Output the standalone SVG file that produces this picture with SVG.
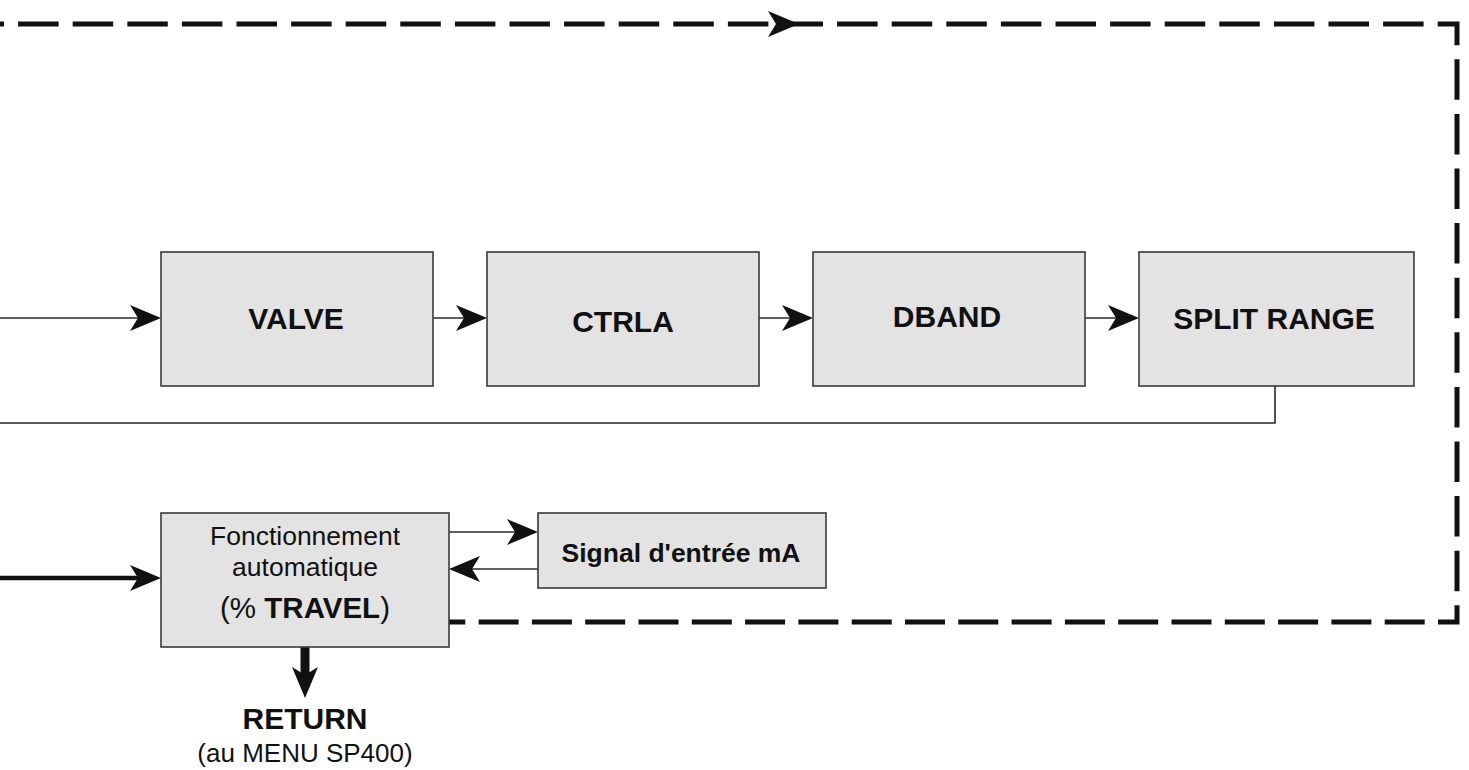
<svg xmlns="http://www.w3.org/2000/svg" width="1469" height="770" viewBox="0 0 1469 770">
<style>
.box{fill:#e3e3e3;stroke:#3a3a3a;stroke-width:1.6}
.t{font-family:"Liberation Sans",Arial,sans-serif;fill:#111;text-anchor:middle}
.b{font-weight:bold}
.ln{fill:none;stroke:#2a2a2a;stroke-width:1.6}
.ah{fill:#111}
.dash{fill:none;stroke:#111;stroke-width:5;stroke-linejoin:miter}
</style>
<defs>
<path id="ah" d="M0,0 L-31,-13 L-23,0 L-31,13 Z"/>
</defs>
<rect width="1469" height="770" fill="#ffffff"/>
<g id="connectors">
<path class="dash" d="M0,24 H1457 V622 H1438" stroke-dasharray="40.5 14.1" stroke-dashoffset="36.5"/>
<path class="dash" d="M1438,622 H449" stroke-dasharray="40 13.3" stroke-dashoffset="40"/>
<use href="#ah" class="ah" transform="translate(799,24)"/>
<path class="ln" d="M0,318 H140"/>
<use href="#ah" class="ah" transform="translate(161,318)"/>
<path class="ln" d="M433,318 H466"/>
<use href="#ah" class="ah" transform="translate(487,318)"/>
<path class="ln" d="M759,318 H792"/>
<use href="#ah" class="ah" transform="translate(813,318)"/>
<path class="ln" d="M1085,318 H1118"/>
<use href="#ah" class="ah" transform="translate(1139,318)"/>
<path class="ln" d="M1275,386 V423 H0"/>
<path fill="none" stroke="#111" stroke-width="4.5" d="M0,578 H140"/>
<use href="#ah" class="ah" transform="translate(161,578)"/>
<path class="ln" d="M449,532 H517"/>
<use href="#ah" class="ah" transform="translate(538,532)"/>
<path class="ln" d="M538,569 H470"/>
<use href="#ah" class="ah" transform="translate(449,569) rotate(180)"/>
<path fill="none" stroke="#111" stroke-width="9" d="M305,647 V678"/>
<use href="#ah" class="ah" transform="translate(305,698) rotate(90)"/>
</g>
<g id="valve">
<rect class="box" x="161" y="252" width="272" height="134"/>
<text class="t b" x="296" y="329" font-size="30">VALVE</text>
</g>
<g id="ctrla">
<rect class="box" x="487" y="252" width="272" height="134"/>
<text class="t b" x="623" y="332" font-size="30">CTRLA</text>
</g>
<g id="dband">
<rect class="box" x="813" y="252" width="272" height="134"/>
<text class="t b" x="947" y="327" font-size="30">DBAND</text>
</g>
<g id="split-range">
<rect class="box" x="1139" y="252" width="275" height="134"/>
<text class="t b" x="1274" y="329" font-size="30">SPLIT RANGE</text>
</g>
<g id="fonctionnement">
<rect class="box" x="161" y="513" width="288" height="134"/>
<text class="t" x="305" y="545" font-size="26.5">Fonctionnement</text>
<text class="t" x="305" y="576" font-size="26.5">automatique</text>
<text class="t" x="305" y="618" font-size="29.5">(%<tspan class="b"> TRAVEL</tspan>)</text>
</g>
<g id="signal">
<rect class="box" x="538" y="513" width="288" height="75"/>
<text class="t b" x="681" y="562" font-size="26.5">Signal d'entrée mA</text>
</g>
<g id="return">
<text class="t b" x="305" y="729" font-size="30">RETURN</text>
<text class="t" x="305" y="762" font-size="26">(au MENU SP400)</text>
</g>
</svg>
